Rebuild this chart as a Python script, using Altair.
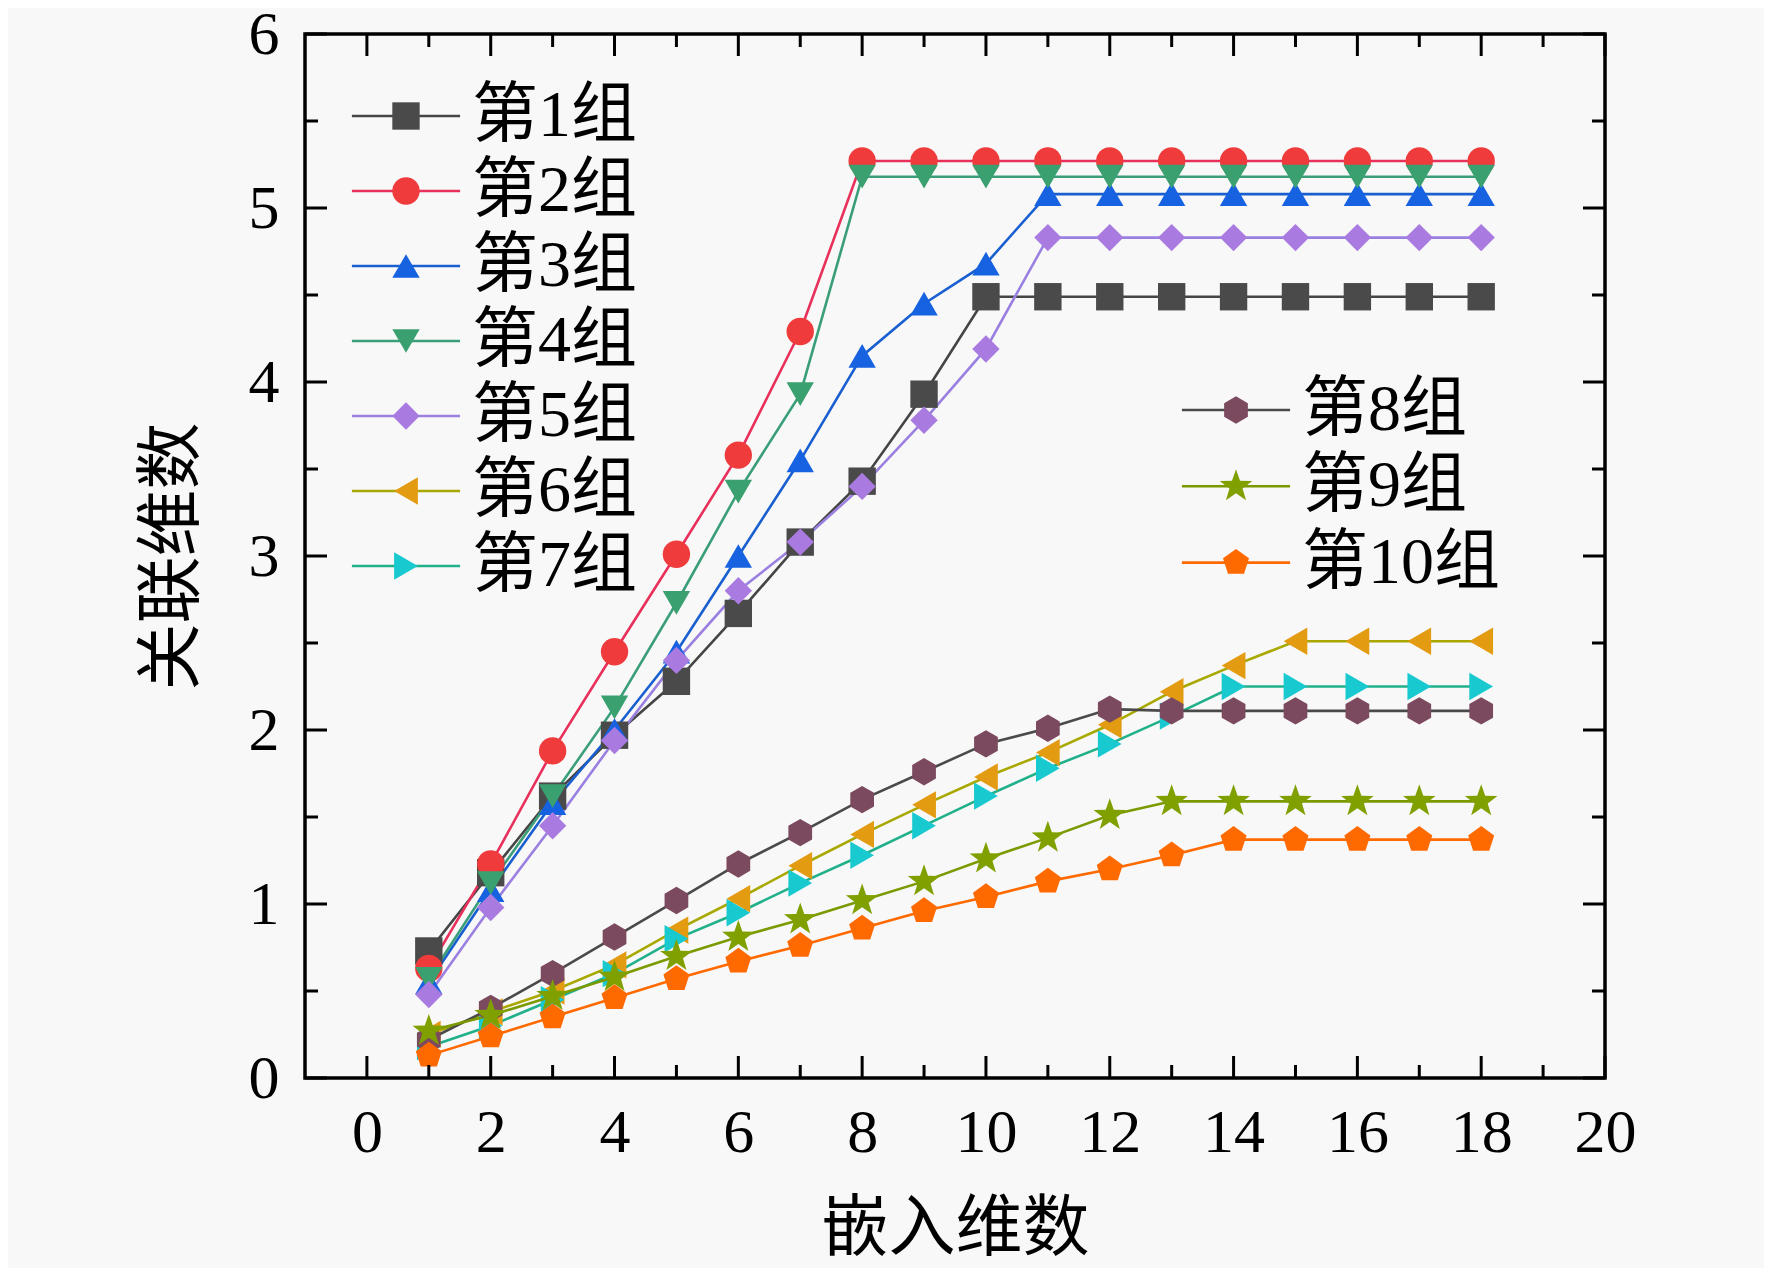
import altair as alt
import pandas as pd

# ---------------- data ----------------
x_vals = list(range(1, 19))
groups = ["第1组", "第2组", "第3组", "第4组", "第5组", "第6组", "第7组", "第8组", "第9组", "第10组"]

g1 = [0.73, 1.18, 1.62, 1.97, 2.28, 2.67, 3.08, 3.43, 3.93, 4.49, 4.49, 4.49, 4.49, 4.49, 4.49, 4.49, 4.49, 4.49]
g2 = [0.63, 1.23, 1.88, 2.45, 3.01, 3.58, 4.29, 5.27, 5.27, 5.27, 5.27, 5.27, 5.27, 5.27, 5.27, 5.27, 5.27, 5.27]
g3 = [0.55, 1.08, 1.58, 2.00, 2.45, 3.00, 3.55, 4.15, 4.45, 4.68, 5.08, 5.08, 5.08, 5.08, 5.08, 5.08, 5.08, 5.08]
g4 = [0.57, 1.12, 1.62, 2.13, 2.73, 3.37, 3.93, 5.18, 5.18, 5.18, 5.18, 5.18, 5.18, 5.18, 5.18, 5.18, 5.18, 5.18]
g5 = [0.48, 0.98, 1.45, 1.94, 2.40, 2.80, 3.08, 3.40, 3.78, 4.19, 4.83, 4.83, 4.83, 4.83, 4.83, 4.83, 4.83, 4.83]
g6 = [0.25, 0.38, 0.50, 0.65, 0.85, 1.03, 1.22, 1.40, 1.57, 1.73, 1.87, 2.03, 2.22, 2.37, 2.51, 2.51, 2.51, 2.51]
g7 = [0.18, 0.30, 0.45, 0.60, 0.80, 0.95, 1.12, 1.28, 1.45, 1.62, 1.78, 1.92, 2.08, 2.25, 2.25, 2.25, 2.25, 2.25]
g8 = [0.22, 0.40, 0.60, 0.81, 1.02, 1.23, 1.41, 1.60, 1.76, 1.92, 2.01, 2.12, 2.11, 2.11, 2.11, 2.11, 2.11, 2.11]
g9 = [0.27, 0.36, 0.47, 0.58, 0.70, 0.81, 0.91, 1.02, 1.13, 1.26, 1.38, 1.51, 1.59, 1.59, 1.59, 1.59, 1.59, 1.59]
g10 = [0.13, 0.24, 0.35, 0.46, 0.57, 0.67, 0.76, 0.86, 0.96, 1.04, 1.13, 1.20, 1.28, 1.37, 1.37, 1.37, 1.37, 1.37]
series = [g1, g2, g3, g4, g5, g6, g7, g8, g9, g10]

x_major = [0, 2, 4, 6, 8, 10, 12, 14, 16, 18, 20]
x_minor = [1, 3, 5, 7, 9, 11, 13, 15, 17, 19]
y_major = [0, 1, 2, 3, 4, 5, 6]
y_minor = [0.5, 1.5, 2.5, 3.5, 4.5, 5.5]

# ---------------- styles ----------------
line_colors = ["#454545", "#e8305a", "#1a5fd0", "#3a9e78", "#9a80e0",
               "#a8a800", "#20b08a", "#4a4a4a", "#7a9a00", "#ff6a00"]
fill_colors = ["#4a4a4a", "#ef3b3b", "#1662e0", "#3aa070", "#a97be0",
               "#e39b12", "#19c9d0", "#7b4a5e", "#80a000", "#ff6a00"]
hexagon = "M0,-1L0.866,-0.5L0.866,0.5L0,1L-0.866,0.5L-0.866,-0.5Z"
star = ("M0,-1.25L0.294,-0.405L1.189,-0.387L0.476,0.155L0.734,1.01L0,0.5L-0.734,1.01"
        "L-0.476,0.155L-1.189,-0.387L-0.294,-0.405Z")
pentagon = "M0,-1L0.951,-0.309L0.588,0.809L-0.588,0.809L-0.951,-0.309Z"
shapes = ["square", "circle", "triangle-up", "triangle-down", "diamond",
          "triangle-left", "triangle-right", hexagon, star, pentagon]

W, H = 1300, 1044
SERIF = "Liberation Serif, Noto Sans CJK SC"
FS_TICK = 62
FS_LEG = 66
FS_TITLE = 67
MAJ, MIN = 22, 13
SYM = 750

rows = []
for gi, (name, vals) in enumerate(zip(groups, series)):
    for xv, yv in zip(x_vals, vals):
        rows.append({"group": name, "gid": gi + 1, "x": xv, "y": yv})
df = pd.DataFrame(rows)

xs = alt.Scale(domain=[-1, 20], nice=False, zero=False)
ys = alt.Scale(domain=[0, 6], nice=False, zero=False)
xaxis = alt.Axis(values=x_major, ticks=False, domain=False, grid=False, labelFlush=False,
                 labelOverlap=False,
                 labelFont=SERIF, labelFontSize=FS_TICK, labelColor="black", labelPadding=24,
                 title="嵌入维数", titleFont=SERIF, titleFontSize=FS_TITLE,
                 titleFontWeight="normal", titleColor="black", titlePadding=33)
yaxis = alt.Axis(values=y_major, ticks=False, domain=False, grid=False, labelFlush=False,
                 labelOverlap=False,
                 labelFont=SERIF, labelFontSize=FS_TICK, labelColor="black", labelPadding=26,
                 title="关联维数", titleFont=SERIF, titleFontSize=FS_TITLE,
                 titleFontWeight="normal", titleColor="black", titlePadding=42)


def X(f):
    return alt.X(f"{f}:Q", scale=xs, axis=xaxis)


def Y(f):
    return alt.Y(f"{f}:Q", scale=ys, axis=yaxis)


def stroke_legend(lx, ly, rp):
    return alt.Legend(title=None, orient="none", legendX=lx, legendY=ly, padding=0,
                      symbolType="M-3.95,0L3.95,0", symbolSize=SYM, symbolStrokeWidth=2.6,
                      labelFont=SERIF, labelFontSize=FS_LEG, labelExpr="''",
                      labelOffset=33, rowPadding=rp, labelLimit=500)


def marker_legend(lx, ly, rp):
    return alt.Legend(title=None, orient="none", legendX=lx, legendY=ly, padding=0,
                      symbolSize=SYM, symbolStrokeWidth=0, symbolOpacity=1,
                      labelFont=SERIF, labelFontSize=FS_LEG, labelColor="black",
                      labelOffset=33, rowPadding=rp, labelLimit=500)


def series_layers(idx, lx, ly, rp):
    names = [groups[i] for i in idx]
    gids = [i + 1 for i in idx]
    sub = df[df["gid"].isin(gids)]
    base = alt.Chart(sub)
    line = base.mark_line(strokeWidth=2.6).encode(
        x=X("x"), y=Y("y"),
        color=alt.Color("gid:O", scale=alt.Scale(domain=gids, range=[line_colors[i] for i in idx]),
                        legend=stroke_legend(lx, ly, rp)),
    )
    pts = base.mark_point(filled=True, size=SYM, opacity=1, strokeWidth=0).encode(
        x=X("x"), y=Y("y"),
        fill=alt.Fill("group:N", scale=alt.Scale(domain=names, range=[fill_colors[i] for i in idx]),
                      legend=marker_legend(lx, ly, rp)),
        shape=alt.Shape("group:N", scale=alt.Scale(domain=names, range=[shapes[i] for i in idx]),
                        legend=marker_legend(lx, ly, rp)),
    )
    return line, pts


lA, pA = series_layers(list(range(0, 7)), 68, 49, 9.0)
lB, pB = series_layers(list(range(7, 10)), 898, 343, 10.3)

dxM = pd.DataFrame({"v": x_major})
dxm = pd.DataFrame({"v": x_minor})
dyM = pd.DataFrame({"v": y_major})
dym = pd.DataFrame({"v": y_minor})


def xticks(d, L):
    bot = alt.Chart(d).mark_rule(color="black", strokeWidth=3).encode(
        x=X("v"), y=alt.value(H), y2=alt.value(H - L))
    top = alt.Chart(d).mark_rule(color="black", strokeWidth=3).encode(
        x=X("v"), y=alt.value(0), y2=alt.value(L))
    return [bot, top]


def yticks(d, L):
    left = alt.Chart(d).mark_rule(color="black", strokeWidth=3).encode(
        y=Y("v"), x=alt.value(0), x2=alt.value(L))
    right = alt.Chart(d).mark_rule(color="black", strokeWidth=3).encode(
        y=Y("v"), x=alt.value(W), x2=alt.value(W - L))
    return [left, right]


tick_layers = xticks(dxM, MAJ) + xticks(dxm, MIN) + yticks(dyM, MAJ) + yticks(dym, MIN)

chart = alt.layer(lA, pA, lB, pB, *tick_layers).resolve_scale(
    color="independent", fill="independent", shape="independent"
).properties(
    width=W, height=H,
    padding={"left": 297, "top": 26, "right": 159, "bottom": 190},
    autosize=alt.AutoSizeParams(type="none"),
).configure(background="#f8f8f8").configure_view(stroke="black", strokeWidth=3.5)

chart.save("out.html", embed_options={"renderer": "svg", "actions": False})
